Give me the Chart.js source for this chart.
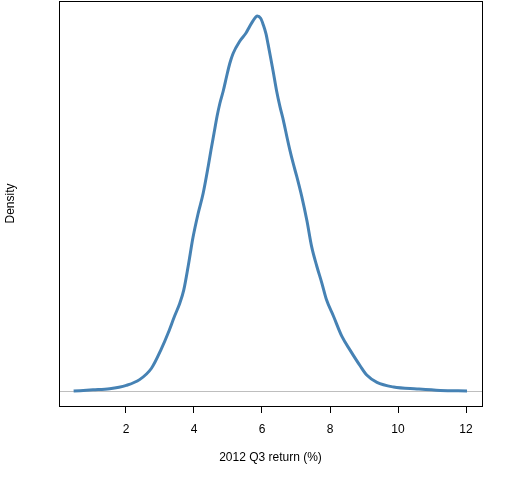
<!DOCTYPE html>
<html>
<head>
<meta charset="utf-8">
<script src="https://cdn.jsdelivr.net/npm/chart.js@4"></script>
<style>
html,body{margin:0;padding:0;background:#fff;}
#wrap{width:512px;height:480px;position:relative;}
</style>
</head>
<body>
<div id="wrap"><canvas id="c"></canvas></div>
<script>
const returns = [0.46,1.03,1.52,2.01,2.40,2.75,3.04,3.24,3.43,3.58,3.70,3.83,3.97,4.12,4.27,4.42,4.50,4.59,4.68,4.76,4.86,4.96,5.05,5.15,5.35,5.53,5.64,5.74,5.86,5.96,6.04,6.12,6.18,6.25,6.33,6.43,6.53,6.63,6.73,6.82,6.92,7.02,7.17,7.32,7.46,7.61,7.76,7.90,8.10,8.35,8.59,8.89,9.08,9.38,9.87,10.56,11.24,12.03];
const density = [0.000,0.001,0.002,0.005,0.010,0.020,0.037,0.051,0.066,0.077,0.089,0.110,0.135,0.156,0.174,0.198,0.212,0.227,0.242,0.253,0.264,0.277,0.288,0.297,0.308,0.315,0.321,0.326,0.330,0.328,0.322,0.314,0.305,0.294,0.281,0.264,0.250,0.238,0.224,0.212,0.200,0.189,0.171,0.150,0.127,0.110,0.095,0.080,0.066,0.048,0.036,0.022,0.014,0.0076,0.0035,0.0018,0.0005,0.000];
const xTicks = [2,4,6,8,10,12];
const xTitle = '2012 Q3 return (%)';
const yTitle = 'Density';

const points = returns.map((r,i)=>({x:r,y:density[i]}));
const dMax = Math.max(...density);

const boxPlugin = {
  id:'box',
  beforeDatasetsDraw(chart){
    const ctx = chart.ctx, a = chart.chartArea;
    const y0 = chart.scales.y.getPixelForValue(0);
    ctx.save();
    ctx.strokeStyle = '#bebebe';
    ctx.lineWidth = 1;
    ctx.beginPath();
    ctx.moveTo(a.left, Math.round(y0)+0.5);
    ctx.lineTo(a.right, Math.round(y0)+0.5);
    ctx.stroke();
    ctx.restore();
  },
  afterDraw(chart){
    const ctx = chart.ctx, a = chart.chartArea;
    ctx.save();
    ctx.strokeStyle = '#000';
    ctx.lineWidth = 1;
    ctx.strokeRect(Math.round(a.left)+0.5, Math.round(a.top)+0.5, Math.round(a.right-a.left), Math.round(a.bottom-a.top));
    ctx.restore();
  }
};

Chart.defaults.font.family = '"Liberation Sans", Arial, sans-serif';
Chart.defaults.font.size = 12;
Chart.defaults.color = '#000';

new Chart(document.getElementById('c'), {
  type:'line',
  data:{datasets:[{
    data:points,
    borderColor:'#4682B4',
    borderWidth:3,
    pointRadius:0,
    fill:false,
    cubicInterpolationMode:'monotone'
  }]},
  options:{
    responsive:true,
    maintainAspectRatio:false,
    animation:false,
    layout:{padding:{top:1,right:30,left:0,bottom:0}},
    plugins:{legend:{display:false},tooltip:{enabled:false}},
    scales:{
      x:{
        type:'linear',
        min:0.03,
        max:12.47,
        afterBuildTicks(s){ s.ticks = xTicks.map(v=>({value:v})); },
        afterFit(s){ s.height = 74; },
        grid:{display:true,drawOnChartArea:false,drawTicks:true,tickLength:7,color:'#000',lineWidth:1},
        border:{display:false},
        ticks:{padding:9,color:'#000',font:{size:12},maxRotation:0},
        title:{display:true,text:xTitle,color:'#000',font:{size:12},padding:{top:12,bottom:15}}
      },
      y:{
        type:'linear',
        min:-0.04*dMax,
        max:1.04*dMax,
        afterFit(s){ s.width = 59; },
        grid:{display:false},
        border:{display:false},
        ticks:{display:false},
        title:{display:true,text:yTitle,color:'#000',font:{size:12},padding:{top:3,bottom:0}}
      }
    }
  },
  plugins:[boxPlugin]
});
</script>
</body>
</html>
